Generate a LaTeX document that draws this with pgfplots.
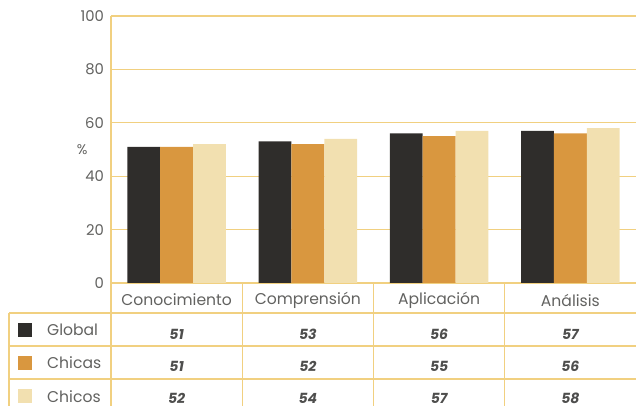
\documentclass[border=0pt]{standalone}
\usepackage{fontspec}
\setmainfont{Poppins}
\usepackage{pgfplots}
\pgfplotsset{compat=1.18}
\usepackage{pgfplotstable}

\definecolor{cglobal}{HTML}{2F2D2B}
\definecolor{cchicas}{HTML}{D9973F}
\definecolor{cchicos}{HTML}{F2E0B0}
\definecolor{cline}{HTML}{F1D080}
\definecolor{ctext}{HTML}{626260}

% porcentaje por nivel cognitivo
\pgfplotstableread{
x global chicas chicos
0 51 51 52
1 53 52 54
2 56 55 57
3 57 56 58
}\datos

\pgfplotsset{
  fila/.style={draw=none, mark=none, nodes near coords, point meta=explicit,
    every node near coord/.append style={anchor=center, text=ctext!80!black,
      font=\bfseries\itshape\fontsize{7}{7}\selectfont}},
}

\begin{document}
\begin{tikzpicture}[x=1pt,y=1pt]
\begin{axis}[
    at={(55.5pt,61.5pt)}, anchor=south west,
    scale only axis, width=262.5pt, height=133.5pt,
    xmin=-0.5, xmax=3.5, ymin=0, ymax=100,
    clip=false,
    axis line style={draw=none},
    ytick={0,20,...,100},
    ymajorgrids, grid style={cline, line width=0.55pt},
    xtick={0,1,2,3},
    xticklabels={Conocimiento,Comprensión,Aplicación,Análisis},
    major tick length=0pt,
    /pgf/number format/assume math mode=true,
    yticklabel style={font=\fontsize{7.4}{7}\selectfont, text=ctext},
    xticklabel style={font=\fontsize{7.8}{8}\selectfont, text=ctext,
      anchor=center, yshift=-8.5pt},
]
% lineas de la tabla
\draw[cline, line width=0.55pt] (axis cs:-0.5,100) -- (axis cs:-0.5,-47);
\draw[cline, line width=0.55pt] (axis cs:-0.5,0) -- (axis cs:3.5,0);
\pgfplotsinvokeforeach{0.5,1.5,2.5}{
  \draw[cline, line width=0.55pt] (axis cs:#1,0) -- (axis cs:#1,-47);
}
\pgfplotsinvokeforeach{-11.24,-23.6,-35.96}{
  \draw[cline, line width=0.55pt] (axis cs:-1.277,#1) -- (axis cs:3.5,#1);
}
\draw[cline, line width=0.55pt] (axis cs:-1.277,-11.24) -- (axis cs:-1.277,-47);

\addplot[ybar, bar width=0.25, bar shift=-0.25, fill=cglobal, draw=none] table[x=x, y=global] {\datos};
\addplot[ybar, bar width=0.25, bar shift=0, fill=cchicas, draw=none] table[x=x, y=chicas] {\datos};
\addplot[ybar, bar width=0.25, bar shift=0.25, fill=cchicos, draw=none] table[x=x, y=chicos] {\datos};

% valores en la tabla
\addplot[fila] table[x=x, y expr=-19.3, meta=global] {\datos};
\addplot[fila] table[x=x, y expr=-31.3, meta=chicas] {\datos};
\addplot[fila] table[x=x, y expr=-43.3, meta=chicos] {\datos};

% claves de la tabla
\node[fill=cglobal, minimum size=7pt, inner sep=0pt] at (axis cs:-1.155,-17.6) {};
\node[fill=cchicas, minimum size=7pt, inner sep=0pt] at (axis cs:-1.155,-29.9) {};
\node[fill=cchicos, minimum size=7pt, inner sep=0pt] at (axis cs:-1.155,-42.4) {};
\node[anchor=west, text=ctext, font=\fontsize{7.8}{8}\selectfont] at (axis cs:-1.04,-17.6) {Global};
\node[anchor=west, text=ctext, font=\fontsize{7.8}{8}\selectfont] at (axis cs:-1.04,-29.9) {Chicas};
\node[anchor=west, text=ctext, font=\fontsize{7.8}{8}\selectfont] at (axis cs:-1.04,-42.4) {Chicos};

\node[text=ctext, font=\fontsize{7}{7}\selectfont] at (axis cs:-0.72,50) {\%};
\end{axis}
\pgfresetboundingbox
\useasboundingbox (0,0) rectangle (318pt,203pt);
\end{tikzpicture}
\end{document}
